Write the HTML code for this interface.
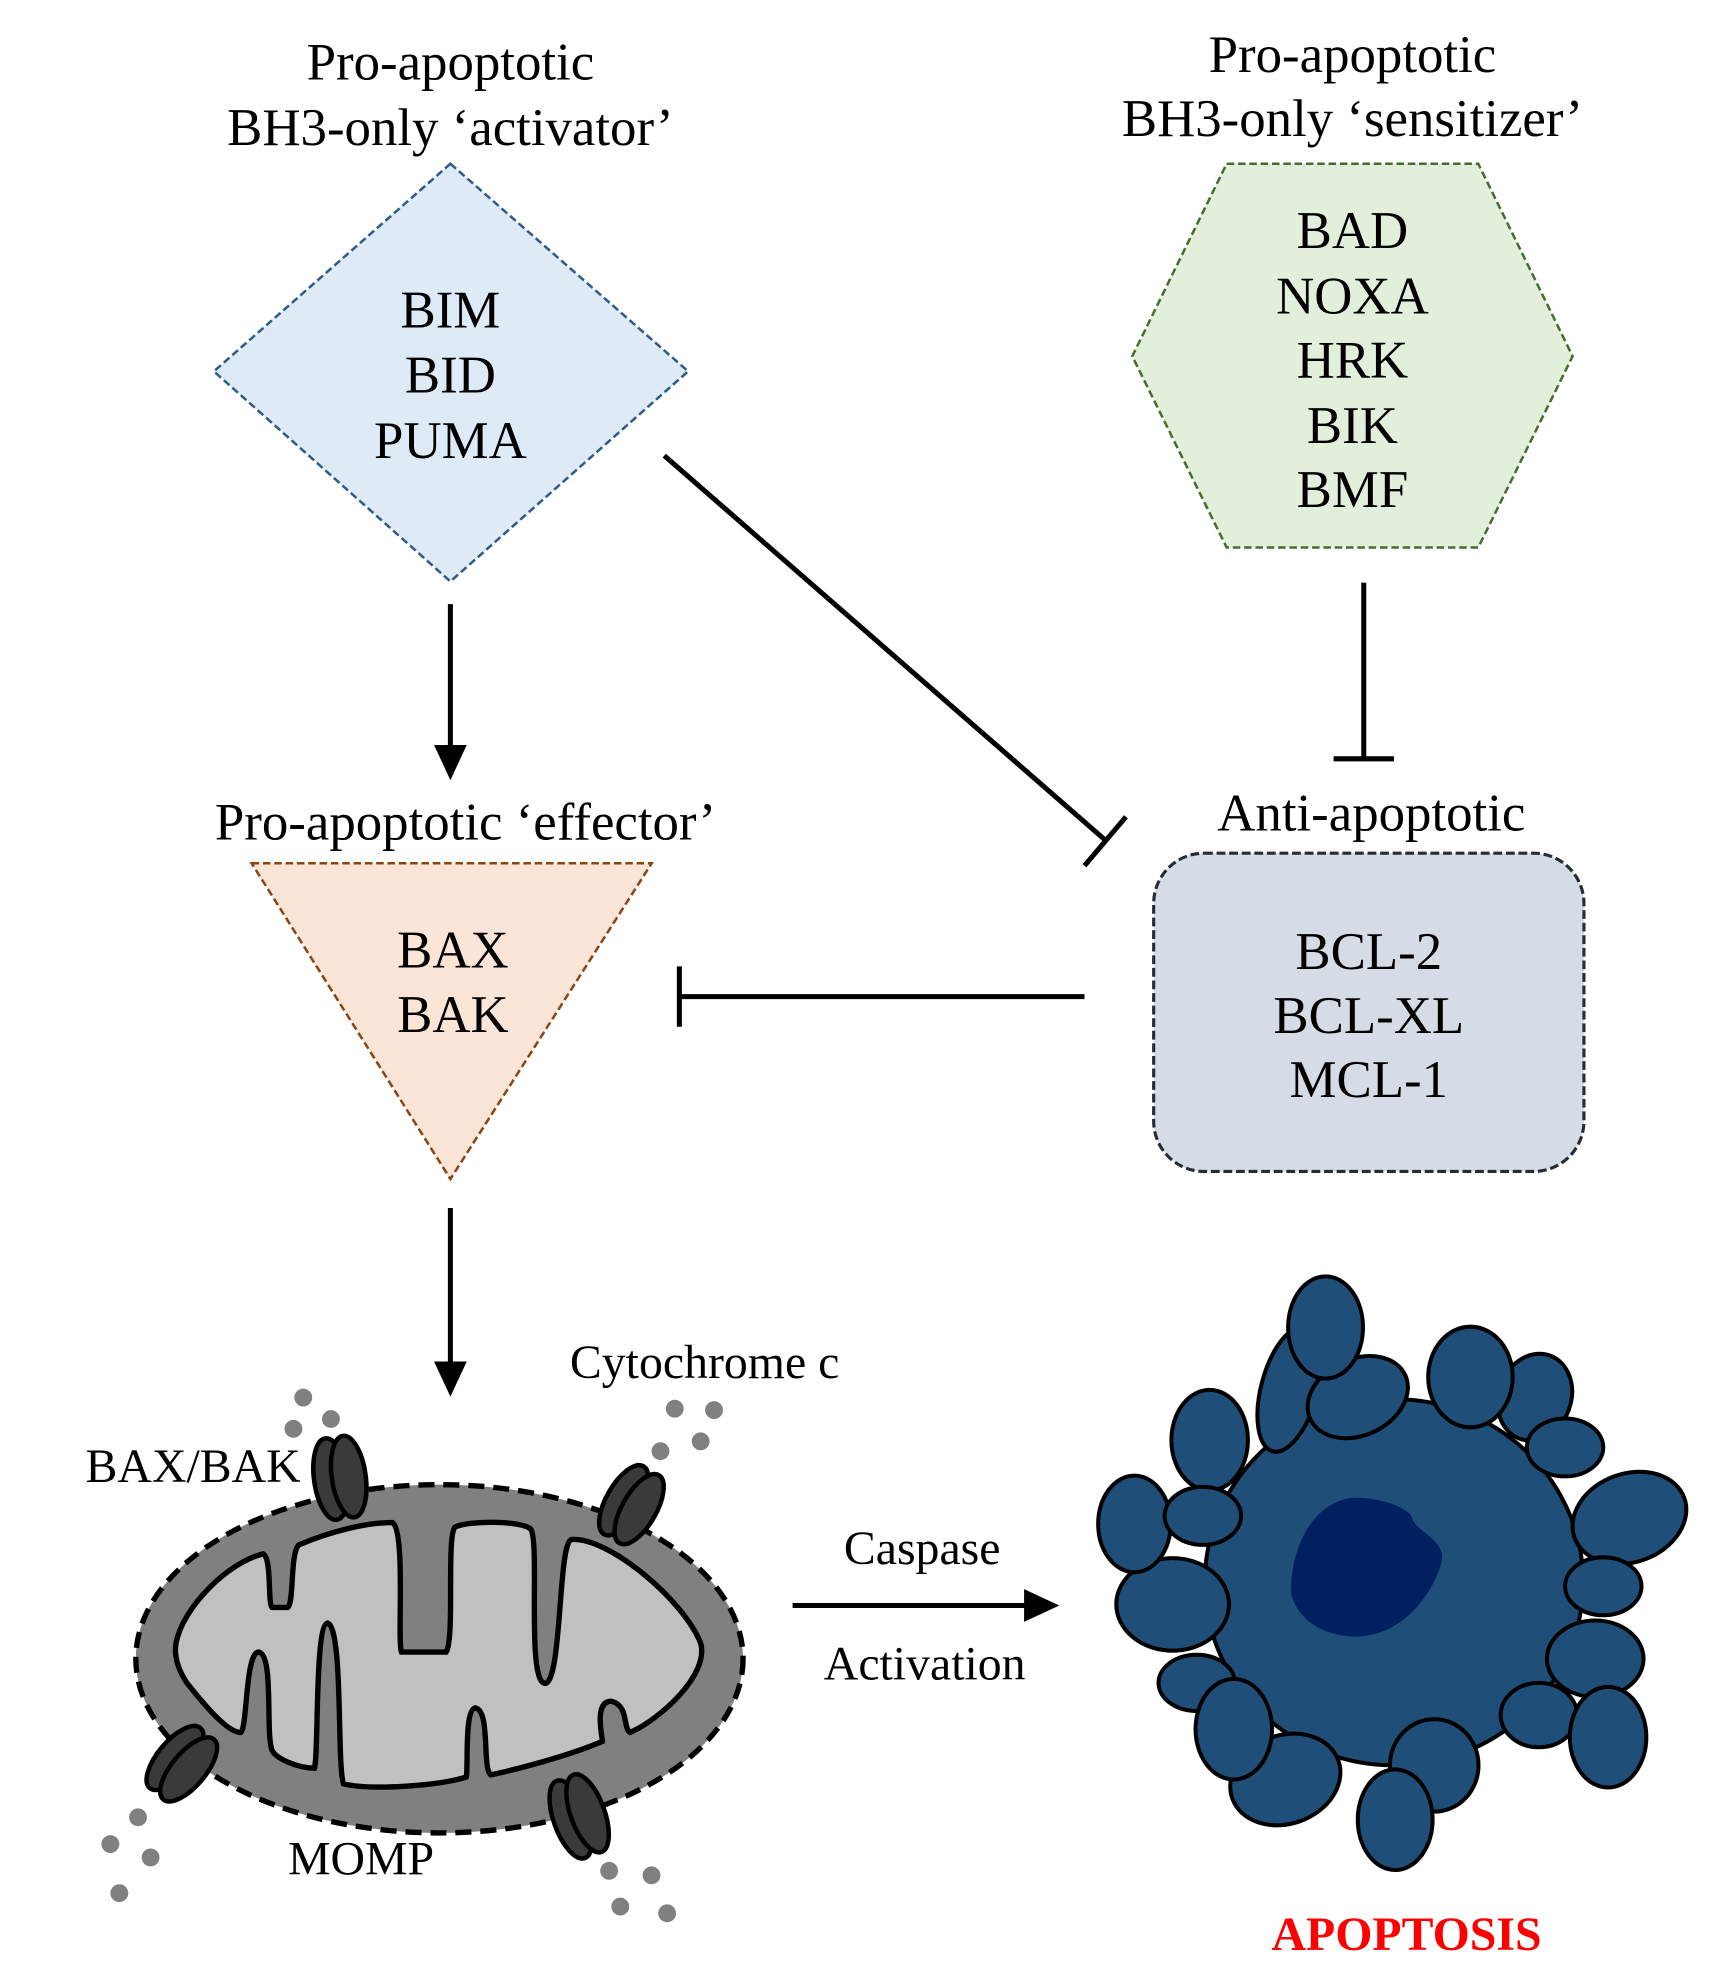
<!DOCTYPE html>
<html><head><meta charset="utf-8"><style>
html,body{margin:0;padding:0;background:#fff;}
svg{display:block;}
text{font-family:"Liberation Serif",serif;fill:#000;}
</style></head><body>
<svg width="1711" height="1963" viewBox="0 0 1360 1560" xmlns="http://www.w3.org/2000/svg">
<defs>
<marker id="ah" markerWidth="10" markerHeight="10" refX="9" refY="5" orient="auto" markerUnits="userSpaceOnUse" viewBox="0 0 10 10"><path d="M0,0 L10,5 L0,10 Z" fill="#000"/></marker>
</defs>
<rect width="1360" height="1560" fill="#fff"/>

<!-- Titles -->
<g font-size="42" text-anchor="middle">
<text x="358" y="63">Pro-apoptotic</text>
<text x="358" y="115">BH3-only ‘activator’</text>
<text x="1075" y="57">Pro-apoptotic</text>
<text x="1075" y="108">BH3-only ‘sensitizer’</text>
<text x="370" y="667">Pro-apoptotic ‘effector’</text>
<text x="1090" y="660">Anti-apoptotic</text>
</g>

<!-- Diamond -->
<polygon points="358,130 547,295 358,462 170,295" fill="#deeaf6" stroke="#2e5b8a" stroke-width="2" stroke-dasharray="6,3"/>
<g font-size="42" text-anchor="middle">
<text x="358" y="260">BIM</text><text x="358" y="312">BID</text><text x="358" y="364">PUMA</text>
</g>

<!-- Hexagon -->
<polygon points="975,130 1175,130 1250,283 1175,435 975,435 900,283" fill="#e2efda" stroke="#4a6b2f" stroke-width="2" stroke-dasharray="6,3"/>
<g font-size="42" text-anchor="middle">
<text x="1075" y="197">BAD</text><text x="1075" y="249">NOXA</text><text x="1075" y="300">HRK</text><text x="1075" y="352">BIK</text><text x="1075" y="403">BMF</text>
</g>

<!-- Triangle -->
<polygon points="200,686 518,686 358,937" fill="#fbe5d6" stroke="#8b4513" stroke-width="2" stroke-dasharray="6,3"/>
<g font-size="42" text-anchor="middle">
<text x="360" y="769">BAX</text><text x="360" y="820">BAK</text>
</g>

<!-- Rounded rect -->
<rect x="917" y="678" width="342" height="253" rx="40" fill="#d6dce5" stroke="#262c36" stroke-width="2.5" stroke-dasharray="7,3"/>
<g font-size="42" text-anchor="middle">
<text x="1088" y="770">BCL-2</text><text x="1088" y="821">BCL-XL</text><text x="1088" y="872">MCL-1</text>
</g>

<!-- Connectors -->
<g stroke="#000" stroke-width="4" fill="none">
<line x1="358" y1="480" x2="358" y2="596"/>
<line x1="528" y1="362" x2="879" y2="668"/>
<line x1="862" y1="688" x2="895" y2="649"/>
<line x1="1084" y1="463" x2="1084" y2="603"/>
<line x1="1060" y1="603" x2="1108" y2="603"/>
<line x1="862" y1="792" x2="540" y2="792"/>
<line x1="540" y1="768" x2="540" y2="816"/>
<line x1="358" y1="960" x2="358" y2="1084"/>
<line x1="630" y1="1276" x2="818" y2="1276"/>
</g>
<polygon points="345,592 371,592 358,620" fill="#000"/>
<polygon points="345,1082 371,1082 358,1110" fill="#000"/>
<polygon points="814,1263 814,1289 842,1276" fill="#000"/>

<!-- Mitochondrion (zoom2 coords) -->
<g transform="translate(63.6,993.6) scale(0.3549)">
<ellipse cx="805" cy="915" rx="680" ry="390" fill="#808080" stroke="#000" stroke-width="12" stroke-dasharray="36,20"/>
<path d="M215,880 C230,800 330,700 410,680 C430,690 420,790 430,800 L465,800 C480,790 470,680 490,660 C560,630 640,610 700,610 C730,630 710,880 720,900 L820,900 C840,870 820,640 840,620 C870,605 990,605 1010,625 C1030,660 1000,960 1040,970 C1080,975 1070,660 1100,648 C1180,640 1350,780 1390,880 C1410,950 1300,1050 1232,1080 C1215,1070 1230,1020 1190,1010 C1150,1010 1170,1090 1170,1100 C1100,1130 990,1160 920,1175 C900,1160 920,1030 885,1025 C860,1030 870,1160 865,1180 C800,1200 650,1210 590,1195 C575,1150 590,850 555,835 C525,835 535,1130 525,1160 C490,1160 440,1140 430,1120 C415,1080 435,905 400,900 C370,900 375,1070 360,1080 C330,1080 280,1020 240,970 C220,940 210,910 215,880 Z" fill="#c0c0c0" stroke="#000" stroke-width="12"/>
<g fill="#3a3a3a" stroke="#000" stroke-width="10">
<g transform="translate(580,510) rotate(-8)"><ellipse cx="-18" cy="0" rx="38" ry="92"/><ellipse cx="22" cy="0" rx="38" ry="92"/></g>
<g transform="translate(1235,570) rotate(30)"><ellipse cx="-20" cy="0" rx="38" ry="88"/><ellipse cx="20" cy="0" rx="38" ry="88"/></g>
<g transform="translate(228,1150) rotate(40)"><ellipse cx="-20" cy="0" rx="38" ry="88"/><ellipse cx="20" cy="0" rx="38" ry="88"/></g>
<g transform="translate(1118,1268) rotate(-20)"><ellipse cx="-20" cy="0" rx="38" ry="92"/><ellipse cx="20" cy="0" rx="38" ry="92"/></g>
</g>
<g fill="#808080">
<circle cx="500" cy="330" r="20"/><circle cx="562" cy="378" r="20"/><circle cx="478" cy="400" r="20"/>
<circle cx="1332" cy="355" r="20"/><circle cx="1420" cy="358" r="20"/><circle cx="1300" cy="450" r="20"/><circle cx="1390" cy="428" r="20"/>
<circle cx="130" cy="1270" r="20"/><circle cx="68" cy="1330" r="20"/><circle cx="158" cy="1360" r="20"/><circle cx="88" cy="1440" r="20"/>
<circle cx="1185" cy="1390" r="20"/><circle cx="1280" cy="1400" r="20"/><circle cx="1210" cy="1470" r="20"/><circle cx="1315" cy="1485" r="20"/>
</g>
</g>
<g font-size="38">
<text x="68" y="1178">BAX/BAK</text>
<text x="453" y="1095">Cytochrome c</text>
<text x="287" y="1490" text-anchor="middle">MOMP</text>
<text x="733" y="1243" text-anchor="middle">Caspase</text>
<text x="735" y="1335" text-anchor="middle">Activation</text>
</g>

<!-- Apoptotic cell (zoom3 coords) -->
<g transform="translate(858.5,1001.6) scale(0.3199)" fill="#1f4e79" stroke="#000" stroke-width="10">
<ellipse cx="780" cy="800" rx="470" ry="455"/>
<path d="M680,590 C760,590 820,620 825,640 C830,670 900,690 900,740 C890,800 820,930 690,935 C600,935 540,890 525,830 C520,730 570,600 680,590 Z" fill="#002060" stroke="none"/>
<ellipse cx="520" cy="320" rx="70" ry="160" transform="rotate(15 520 320)"/>
<ellipse cx="690" cy="340" rx="130" ry="95" transform="rotate(-25 690 340)"/>
<ellipse cx="1130" cy="340" rx="90" ry="110" transform="rotate(20 1130 340)"/>
<ellipse cx="1365" cy="640" rx="145" ry="110" transform="rotate(-20 1365 640)"/>
<ellipse cx="230" cy="855" rx="140" ry="115"/>
<ellipse cx="510" cy="1290" rx="140" ry="110" transform="rotate(-20 510 1290)"/>
<ellipse cx="1140" cy="1130" rx="95" ry="80"/>
<ellipse cx="1280" cy="990" rx="120" ry="95"/>
<ellipse cx="290" cy="1050" rx="95" ry="70"/>
<ellipse cx="610" cy="167" rx="93" ry="127"/>
<ellipse cx="970" cy="290" rx="105" ry="125"/>
<ellipse cx="1205" cy="465" rx="95" ry="72"/>
<ellipse cx="322" cy="447" rx="95" ry="125"/>
<ellipse cx="135" cy="655" rx="90" ry="120"/>
<ellipse cx="305" cy="635" rx="95" ry="72"/>
<ellipse cx="1300" cy="810" rx="95" ry="72"/>
<ellipse cx="382" cy="1165" rx="95" ry="125"/>
<ellipse cx="1312" cy="1185" rx="95" ry="125"/>
<ellipse cx="880" cy="1255" rx="110" ry="115"/>
<ellipse cx="783" cy="1390" rx="93" ry="125"/>
</g>
<text x="1118" y="1550" font-size="38" font-weight="bold" text-anchor="middle" style="fill:#ff0000">APOPTOSIS</text>
</svg>
</body></html>
